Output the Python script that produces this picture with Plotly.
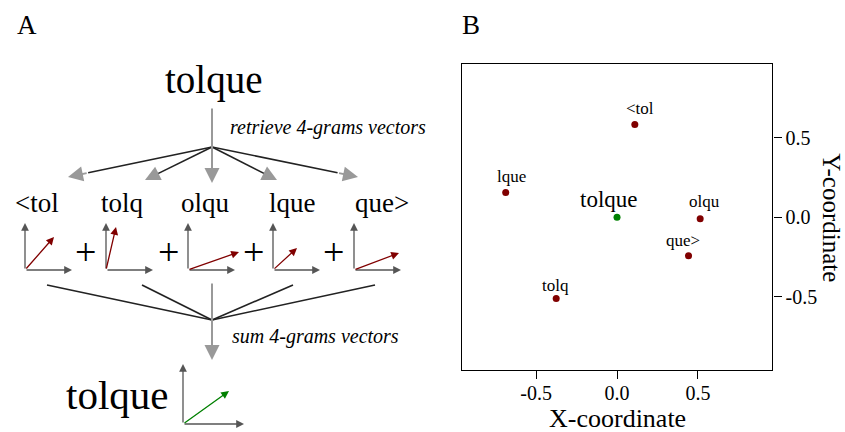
import plotly.graph_objects as go

# ---------------- data ----------------
ngrams = ["<tol", "tolq", "olqu", "lque", "que>"]
ngram_x = [0.11, -0.376, 0.514, -0.688, 0.442]
ngram_y = [0.583, -0.511, -0.01, 0.155, -0.243]
word = "tolque"
word_x = [0.0]
word_y = [0.0]
# illustrative 2-D n-gram vectors drawn in panel A (pixel lengths)
vec_dx = [29, 10, 51, 24, 45]
vec_dy = [33, 43, 18, 22, 17]
sum_vec = (46, 33)
tick_vals = [-0.5, 0.0, 0.5]
tick_text = ["-0.5", "0.0", "0.5"]

FONT = "Liberation Serif"
RED = "#800000"
GREEN = "#008000"
GRAY = "#999999"
AXG = "#555555"
BLK = "#222222"


def esc(s):
    return s.replace("<", "&lt;").replace(">", "&gt;")


fig = go.Figure()
fig.add_trace(go.Scatter(x=ngram_x, y=ngram_y, mode="markers",
                         marker=dict(color=RED, size=7), xaxis="x", yaxis="y",
                         showlegend=False, hoverinfo="skip"))
fig.add_trace(go.Scatter(x=word_x, y=word_y, mode="markers",
                         marker=dict(color=GREEN, size=7), xaxis="x", yaxis="y",
                         showlegend=False, hoverinfo="skip"))

ann = []
shapes = []

# ---- panel B point labels ----
lab_shift_x = [5, -1, 4, 6, -6]
lab_shift_y = [16, 13, 17, 16, 15]
for name, x, y, sx, sy in zip(ngrams, ngram_x, ngram_y, lab_shift_x, lab_shift_y):
    ann.append(dict(x=x, y=y, xref="x", yref="y", text=esc(name), showarrow=False,
                    xanchor="center", yanchor="middle",
                    xshift=sx, yshift=sy, font=dict(family=FONT, size=17, color="black")))
ann.append(dict(x=word_x[0], y=word_y[0], xref="x", yref="y", text=word, showarrow=False,
                xanchor="center", yanchor="middle",
                xshift=-8, yshift=18, font=dict(family=FONT, size=23, color="black")))

# axis titles
ann.append(dict(x=0, y=1 - 418 / 432, xref="x", yref="paper", text="X-coordinate", showarrow=False,
                xanchor="center", yanchor="middle",
                font=dict(family=FONT, size=26, color="black")))
ann.append(dict(x=832 / 845, y=0, xref="paper", yref="y", text="Y-coordinate", showarrow=False,
                xanchor="center", yanchor="middle",
                textangle=90, font=dict(family=FONT, size=25, color="black")))

# panel letters
ann.append(dict(x=27, y=25, xref="x2", yref="y2", text="A", showarrow=False,
                xanchor="center", yanchor="middle",
                font=dict(family=FONT, size=27, color="black")))
ann.append(dict(x=471, y=25, xref="x2", yref="y2", text="B", showarrow=False,
                xanchor="center", yanchor="middle",
                font=dict(family=FONT, size=27, color="black")))


# ---- panel A diagram (pixel space x2/y2) ----
def arrow(x0, y0, x1, y1, color, width, size, head=2):
    ann.append(dict(x=x1, y=y1, ax=x0, ay=y0, xref="x2", yref="y2", axref="x2", ayref="y2",
                    showarrow=True, arrowhead=head, arrowsize=size, arrowwidth=width,
                    arrowcolor=color, text="", standoff=0, startstandoff=0))


def line(x0, y0, x1, y1, color, width):
    shapes.append(dict(type="line", x0=x0, y0=y0, x1=x1, y1=y1, xref="x2", yref="y2",
                       line=dict(color=color, width=width)))


def text(x, y, s, size, anchor="center"):
    ann.append(dict(x=x, y=y, xref="x2", yref="y2", text=s, showarrow=False,
                    xanchor=anchor, yanchor="middle",
                    font=dict(family=FONT, size=size, color="black")))


# top word
text(213, 80, word, 39)
# retrieve arrow
branch = (212, 147)
arrow(212, 107, 212, 183, GRAY, 2, 1.5)
text(228, 127, "<i>retrieve 4-grams vectors</i>", 20, "left")
tips = [(68, 177), (145, 180), (277, 180), (358, 177)]
for tx, ty in tips:
    f = 0.86
    mx, my = branch[0] + f * (tx - branch[0]), branch[1] + f * (ty - branch[1])
    line(branch[0], branch[1], mx, my, BLK, 1.6)
    arrow(mx, my, tx, ty, GRAY, 2, 1.5)

# n-gram labels, mini axes, vectors
lab_x = [37, 122, 205, 292, 382]
orig_x = [25, 106, 188, 273, 354]
orig_y = 270
for i, name in enumerate(ngrams):
    text(lab_x[i], 203, esc(name), 27)
    ox = orig_x[i]
    arrow(ox, orig_y, ox + 47, orig_y, AXG, 1.3, 1.2)
    arrow(ox, orig_y, ox, orig_y - 47, AXG, 1.3, 1.2)
    arrow(ox, orig_y, ox + vec_dx[i], orig_y - vec_dy[i], RED, 1.3, 1.2)
for px in [85, 168, 253, 333]:
    text(px, 252, "+", 38)

# sum lines
conv = (212, 320)
for sx in [47, 142, 293, 375]:
    line(sx, 285, conv[0], conv[1], BLK, 1.6)
arrow(212, 282, 212, 360, GRAY, 2, 1.5)
text(230, 336, "<i>sum 4-grams vectors</i>", 20, "left")

# resulting word vector
text(117, 395, word, 41)
ox, oy = 183, 424
arrow(ox, oy, ox + 61, oy, AXG, 1.3, 1.2)
arrow(ox, oy, ox, oy - 60, AXG, 1.3, 1.2)
arrow(ox, oy, ox + sum_vec[0], oy - sum_vec[1], GREEN, 1.3, 1.2)

fig.update_layout(
    width=845, height=432,
    margin=dict(l=0, r=0, t=0, b=0),
    paper_bgcolor="white", plot_bgcolor="rgba(0,0,0,0)",
    showlegend=False,
    font=dict(family=FONT, color="black"),
    xaxis=dict(domain=[0.5464, 0.9140], range=[-0.96, 0.96], tickvals=tick_vals, ticktext=tick_text,
               ticks="outside", ticklen=8, tickwidth=1.2, tickcolor="black",
               showline=True, mirror=True, linecolor="black", linewidth=1.4,
               showgrid=False, zeroline=False, anchor="y", ticklabelstandoff=-3,
               tickfont=dict(family=FONT, size=20, color="black")),
    yaxis=dict(domain=[0.1435, 0.851], range=[-0.96, 0.96], tickvals=tick_vals, ticktext=tick_text,
               side="right", ticks="outside", ticklen=8, tickwidth=1.2, tickcolor="black",
               showline=True, mirror=True, linecolor="black", linewidth=1.4,
               showgrid=False, zeroline=False, anchor="x",
               tickfont=dict(family=FONT, size=20, color="black")),
    xaxis2=dict(domain=[0, 1], range=[0, 845], visible=False, anchor="y2", fixedrange=True),
    yaxis2=dict(domain=[0, 1], range=[432, 0], visible=False, anchor="x2", fixedrange=True),
    annotations=ann,
    shapes=shapes,
)

fig.write_html("out.html")
